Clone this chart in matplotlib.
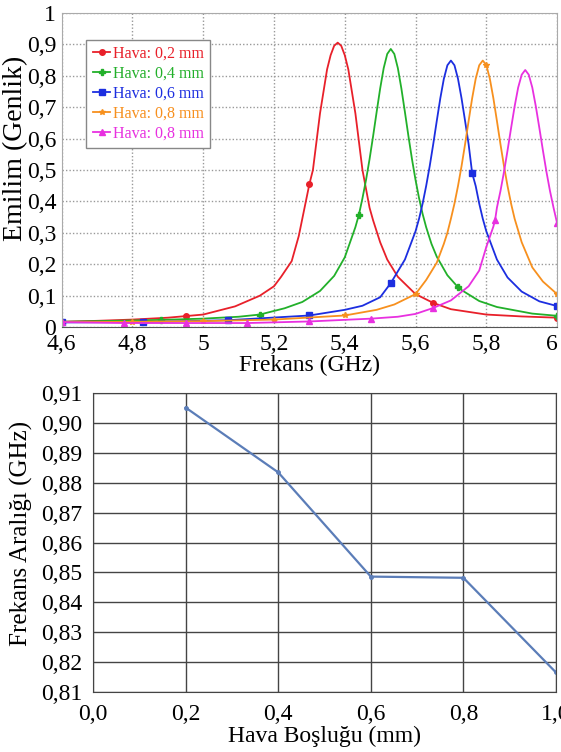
import numpy as np
import matplotlib
matplotlib.use("Agg")
import matplotlib.pyplot as plt
from matplotlib.ticker import FuncFormatter
from matplotlib.transforms import ScaledTranslation

plt.rcParams['font.family'] = ['Liberation Serif', 'DejaVu Serif']

# --- top chart: absorption vs frequency ---
red_f = [4.60, 4.70, 4.80, 4.90, 4.95, 5.00, 5.09, 5.16, 5.20, 5.22, 5.25, 5.27, 5.28, 5.29, 5.30,
         5.31, 5.32, 5.33, 5.34, 5.35, 5.36, 5.37, 5.38, 5.39, 5.40, 5.41, 5.42, 5.43, 5.44, 5.45,
         5.46, 5.47, 5.48, 5.50, 5.52, 5.55, 5.60, 5.65, 5.70, 5.80, 5.90, 6.00]
red_v = [0.017, 0.020, 0.024, 0.030, 0.035, 0.040, 0.066, 0.100, 0.130, 0.160, 0.210, 0.290, 0.345, 0.400, 0.455,
         0.500, 0.590, 0.680, 0.750, 0.820, 0.865, 0.895, 0.905, 0.895, 0.865, 0.820, 0.750, 0.680, 0.590, 0.500,
         0.440, 0.380, 0.340, 0.270, 0.215, 0.160, 0.105, 0.077, 0.057, 0.040, 0.034, 0.030]
red_mk = [4.60, 4.95, 5.30, 5.65, 6.00]

green_f = [4.60, 4.80, 4.88, 5.00, 5.10, 5.16, 5.23, 5.28, 5.33, 5.37, 5.40, 5.43, 5.44, 5.45, 5.46,
           5.47, 5.48, 5.49, 5.50, 5.51, 5.52, 5.53, 5.54, 5.55, 5.56, 5.57, 5.58, 5.59, 5.60, 5.61,
           5.62, 5.63, 5.645, 5.66, 5.69, 5.72, 5.73, 5.78, 5.83, 5.93, 6.00]
green_v = [0.017, 0.021, 0.023, 0.027, 0.033, 0.040, 0.060, 0.080, 0.115, 0.163, 0.222, 0.318, 0.358, 0.410, 0.468,
           0.534, 0.607, 0.684, 0.759, 0.824, 0.869, 0.885, 0.869, 0.824, 0.759, 0.684, 0.607, 0.534, 0.468, 0.410,
           0.360, 0.318, 0.265, 0.224, 0.165, 0.127, 0.118, 0.083, 0.064, 0.043, 0.036]
green_mk = [4.60, 4.88, 5.16, 5.44, 5.72, 6.00]

blue_f = [4.60, 4.83, 5.07, 5.30, 5.40, 5.45, 5.50, 5.53, 5.57, 5.60, 5.61, 5.62, 5.63, 5.64, 5.65,
          5.66, 5.67, 5.68, 5.69, 5.70, 5.71, 5.72, 5.73, 5.74, 5.75, 5.76, 5.77, 5.78, 5.79, 5.80,
          5.83, 5.86, 5.90, 5.95, 6.00]
blue_v = [0.015, 0.016, 0.022, 0.037, 0.055, 0.068, 0.095, 0.140, 0.215, 0.305, 0.345, 0.393, 0.449, 0.512, 0.582,
          0.656, 0.728, 0.790, 0.833, 0.848, 0.833, 0.790, 0.728, 0.656, 0.582, 0.490, 0.449, 0.393, 0.345, 0.305,
          0.215, 0.158, 0.113, 0.082, 0.067]
blue_mk = [4.60, 4.83, 5.07, 5.30, 5.53, 5.76, 6.00]

orange_f = [4.60, 4.80, 5.00, 5.20, 5.40, 5.49, 5.54, 5.60, 5.63, 5.66, 5.68, 5.69, 5.70, 5.71, 5.72,
            5.73, 5.74, 5.75, 5.76, 5.77, 5.78, 5.79, 5.80, 5.81, 5.82, 5.83, 5.84, 5.85, 5.86, 5.87,
            5.88, 5.90, 5.93, 5.96, 6.00]
orange_v = [0.016, 0.017, 0.019, 0.024, 0.037, 0.055, 0.072, 0.105, 0.150, 0.205, 0.265, 0.300, 0.345, 0.393, 0.449,
            0.512, 0.582, 0.656, 0.728, 0.790, 0.833, 0.848, 0.834, 0.790, 0.728, 0.656, 0.582, 0.512, 0.449, 0.393,
            0.345, 0.270, 0.190, 0.145, 0.105]
orange_mk = [4.60, 4.80, 5.00, 5.20, 5.40, 5.60, 5.80, 6.00]

magenta_f = [4.60, 4.775, 4.95, 5.125, 5.30, 5.475, 5.55, 5.60, 5.65, 5.70, 5.75, 5.78, 5.80, 5.82, 5.825,
             5.83, 5.84, 5.85, 5.86, 5.87, 5.88, 5.89, 5.90, 5.91, 5.92, 5.93, 5.94, 5.95, 5.96, 5.97,
             5.98, 5.99, 6.00]
magenta_v = [0.016, 0.013, 0.013, 0.013, 0.018, 0.027, 0.033, 0.042, 0.061, 0.085, 0.130, 0.180, 0.255, 0.320, 0.342,
             0.380, 0.433, 0.494, 0.562, 0.633, 0.702, 0.762, 0.803, 0.818, 0.803, 0.762, 0.702, 0.633, 0.562, 0.494,
             0.433, 0.380, 0.331]
magenta_mk = [4.60, 4.775, 4.95, 5.125, 5.30, 5.475, 5.65, 5.825, 6.00]

labels = ['Hava: 0,2 mm', 'Hava: 0,4 mm', 'Hava: 0,6 mm', 'Hava: 0,8 mm', 'Hava: 0,8 mm']
colors = ['#e8202a', '#22b02a', '#1c2ee0', '#f7901e', '#e830e0']
markers = ['o', 'P', 's', '*', '^']

# --- bottom chart: bandwidth vs air gap ---
gap = [0.2, 0.4, 0.6, 0.8, 1.0]
band = [0.9052, 0.8835, 0.8486, 0.8482, 0.8165]


def comma(fmt):
    return FuncFormatter(lambda v, p: (fmt % v).replace('.', ','))


def short(v, p):
    return ('%g' % round(v, 1)).replace('.', ',')


fig = plt.figure(figsize=(5.61, 7.52), dpi=100)

ax1 = fig.add_axes([0.110, 0.565, 0.883, 0.418])
series = [(red_f, red_v, red_mk), (green_f, green_v, green_mk), (blue_f, blue_v, blue_mk),
          (orange_f, orange_v, orange_mk), (magenta_f, magenta_v, magenta_mk)]
for (f, v, mk), lab, c, m in zip(series, labels, colors, markers):
    idx = [i for i, x in enumerate(f) if np.any(np.isclose(x, mk))]
    ax1.plot(f, v, color=c, lw=1.3, marker=m, ms=4, markevery=idx, label=lab)
ax1.set_xlim(4.6, 6.0)
ax1.set_ylim(0, 1)
ax1.set_xticks(np.arange(4.6, 6.01, 0.2))
ax1.set_yticks(np.arange(0, 1.01, 0.1))
ax1.xaxis.set_major_formatter(FuncFormatter(short))
ax1.yaxis.set_major_formatter(FuncFormatter(short))
ax1.grid(True, color='#999999', ls=(0, (1, 1.5)), lw=1)
ax1.tick_params(length=0, labelsize=17)
ax1.tick_params(axis='x', pad=5)
ax1.tick_params(axis='y', pad=4)
for s in ax1.spines.values():
    s.set_color('#aaaaaa')
ax1.spines['bottom'].set_color('#555555')
ax1.set_xlabel('Frekans (GHz)', fontsize=17, labelpad=0)
ax1.set_ylabel('Emilim (Genlik)', fontsize=20)
ax1.yaxis.set_label_coords(-0.068, 0.57)
leg = ax1.legend(loc='upper left', bbox_to_anchor=(0.05, 0.915), borderaxespad=0, fontsize=11.5,
                 handlelength=1.1, handletextpad=0.15, borderpad=0.4, labelspacing=0.25,
                 fancybox=False, framealpha=1)
leg.get_frame().set_edgecolor('#888888')
for t, c in zip(leg.get_texts(), colors):
    t.set_color(c)

ax2 = fig.add_axes([0.166, 0.080, 0.825, 0.397])
ax2.plot(gap, band, color='#5b7db8', lw=1.6, marker='o', ms=2.5)
ax2.set_xlim(0, 1.0)
ax2.set_ylim(0.81, 0.91)
ax2.set_xticks(np.arange(0, 1.01, 0.2))
ax2.set_yticks(np.arange(0.81, 0.911, 0.01))
ax2.xaxis.set_major_formatter(comma('%.1f'))
ax2.yaxis.set_major_formatter(comma('%.2f'))
ax2.grid(True, color='#444444', lw=1)
ax2.tick_params(length=0, labelsize=17)
ax2.tick_params(axis='x', pad=9)
ax2.tick_params(axis='y', pad=8)
for s in ax2.spines.values():
    s.set_color('#444444')
ax2.set_xlabel('Hava Boşluğu (mm)', fontsize=17, labelpad=0)
ax2.set_ylabel('Frekans Aralığı (GHz)', fontsize=18)
ax2.yaxis.set_label_coords(-0.13, 0.53)

# keep the last frequency label inside the image, as in the original
fig.canvas.draw()
last = ax1.xaxis.get_major_ticks()[-1].label1
last.set_transform(last.get_transform() + ScaledTranslation(-4 / 72, 0, fig.dpi_scale_trans))

fig.savefig('out.png', dpi=100)
